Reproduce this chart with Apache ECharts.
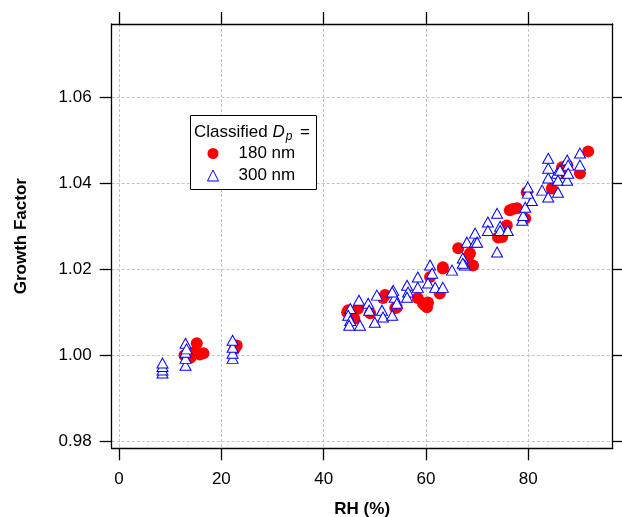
<!DOCTYPE html>
<html>
<head>
<meta charset="utf-8">
<script src="https://cdn.jsdelivr.net/npm/echarts@6/dist/echarts.min.js"></script>
<style>
  html, body { margin: 0; padding: 0; background: #ffffff; }
  #chart { width: 622px; height: 517px; }
</style>
</head>
<body>
<div id="chart"></div>
<script>
// tick positions
var xTicks = [0, 20, 40, 60, 80];
var yTicks = [0.98, 1.00, 1.02, 1.04, 1.06];

// 180 nm (red circles)
var rh180 = [12.8, 14.0, 14.8, 15.2, 15.8, 16.5, 22.6, 23.0,
  44.6, 44.8, 46.0, 46.7, 49.1, 51.6, 52.0, 54.0, 54.3, 58.4, 59.4, 59.8, 60.2, 60.4,
  60.8, 62.7, 63.3, 63.3, 66.3, 67.6, 68.2, 68.6, 69.2, 74.1, 74.9, 75.8, 76.4, 77.0,
  77.8, 79.4, 79.7, 84.6, 86.6, 86.8, 87.6, 90.1, 91.7];
var gf180 = [1.0000, 0.9995, 1.0008, 1.0028, 1.0002, 1.0005, 1.0015, 1.0023,
  1.0100, 1.0105, 1.0085, 1.0108, 1.0098, 1.0133, 1.0140, 1.0110, 1.0112, 1.0133, 1.0121, 1.0116, 1.0112, 1.0123,
  1.0182, 1.0144, 1.0202, 1.0205, 1.0249, 1.0214, 1.0228, 1.0237, 1.0209, 1.0274, 1.0275, 1.0302, 1.0337, 1.0340,
  1.0342, 1.0318, 1.0379, 1.0388, 1.0437, 1.0423, 1.0442, 1.0423, 1.0474];

// 300 nm (blue triangles)
var rh300 = [8.5, 8.5, 8.5, 8.5, 13.0, 13.0, 13.0, 13.0, 13.2, 22.2, 22.2, 22.2, 22.2,
  45.2, 44.8, 45.2, 45.0, 47.1, 46.9, 48.7, 48.9, 50.4, 50.0, 51.4, 51.6, 53.4, 53.6,
  53.9, 54.3, 53.4, 56.3, 56.5, 56.3, 58.4, 58.4,
  60.8, 61.2, 60.4, 61.8, 63.3, 65.1, 67.2, 67.6, 68.0, 69.6, 67.2, 69.6, 70.0,
  72.1, 72.1, 73.9, 74.5, 74.5, 76.0, 73.9,
  78.8, 79.0, 79.4, 80.7, 79.9, 79.9, 82.7, 83.9, 85.8, 83.9, 83.9, 83.9, 85.6, 86.2,
  85.8, 87.6, 87.8, 87.6, 87.8, 90.1, 90.1];
var gf300 = [0.9959, 0.9966, 0.9974, 0.9982, 0.9977, 0.9993, 1.0007, 1.0028, 1.0015, 0.9993, 1.0005, 1.0019, 1.0035,
  1.0109, 1.0093, 1.0081, 1.0070, 1.0070, 1.0128, 1.0121, 1.0105, 1.0140, 1.0077, 1.0105, 1.0089, 1.0093, 1.0151,
  1.0135, 1.0121, 1.0147, 1.0163, 1.0147, 1.0135, 1.0182, 1.0158,
  1.0210, 1.0191, 1.0168, 1.0158, 1.0158, 1.0198, 1.0226, 1.0210, 1.0263, 1.0263, 1.0214, 1.0284, 1.0263,
  1.0310, 1.0290, 1.0330, 1.0300, 1.0290, 1.0290, 1.0240,
  1.0314, 1.0325, 1.0344, 1.0360, 1.0377, 1.0391, 1.0384, 1.0368, 1.0379, 1.0412, 1.0435, 1.0458, 1.0423, 1.0430,
  1.0407, 1.0454, 1.0442, 1.0407, 1.0423, 1.0470, 1.0442];

var xMin = -1.43, xMax = 96.5;
var yMin = 0.9784, yMax = 1.077;

function pairs(xs, ys) {
  return xs.map(function (x, i) { return [x, ys[i]]; });
}

var font = "'Liberation Sans', Arial, sans-serif";
var gridLine = { show: true, lineStyle: { color: '#c4c4c4', type: [3, 2], width: 1 } };
var axLine = { show: true, onZero: false, lineStyle: { color: '#000', width: 1.3 } };
var tickStyle = { color: '#000', width: 1.3 };

var chart = echarts.init(document.getElementById('chart'));
chart.setOption({
  animation: false,
  backgroundColor: '#fff',
  grid: { left: 111.7, right: 9.3, top: 24, bottom: 68.7, containLabel: false, outerBoundsMode: 'none' },
  legend: {
    orient: 'vertical',
    left: 207, top: 145, z: 20, padding: 0,
    itemWidth: 11, itemHeight: 11, itemGap: 5,
    itemStyle: { borderWidth: 1 },
    textStyle: { fontSize: 17, color: '#000', fontFamily: font, padding: [0, 0, 0, 15] },
    data: ['180 nm', '300 nm']
  },
  xAxis: [{
    type: 'value', min: xMin, max: xMax, position: 'bottom',
    name: 'RH (%)', nameLocation: 'middle', nameGap: 53,
    nameTextStyle: { fontSize: 17, fontWeight: 'bold', color: '#000', fontFamily: font },
    axisLine: axLine,
    axisTick: { inside: false, length: 12, customValues: xTicks, lineStyle: tickStyle },
    axisLabel: { customValues: xTicks, fontSize: 17, color: '#000', margin: 23, fontFamily: font },
    splitLine: gridLine
  }, {
    type: 'value', min: xMin, max: xMax, position: 'top',
    axisLine: axLine,
    axisTick: { inside: false, length: 12, customValues: xTicks, lineStyle: tickStyle },
    axisLabel: { show: false },
    splitLine: { show: false }
  }],
  yAxis: [{
    type: 'value', min: yMin, max: yMax, position: 'left',
    name: 'Growth Factor', nameLocation: 'middle', nameGap: 82,
    nameTextStyle: { fontSize: 17, fontWeight: 'bold', color: '#000', fontFamily: font },
    axisLine: axLine,
    axisTick: { inside: false, length: 12, customValues: yTicks, lineStyle: tickStyle },
    axisLabel: {
      customValues: yTicks, fontSize: 17, color: '#000', margin: 20, fontFamily: font,
      formatter: function (v) { return v.toFixed(2); }
    },
    splitLine: gridLine
  }, {
    type: 'value', min: yMin, max: yMax, position: 'right',
    axisLine: axLine,
    axisTick: { inside: false, length: 12, customValues: yTicks, lineStyle: tickStyle },
    axisLabel: { show: false },
    splitLine: { show: false }
  }],
  graphic: [
    { type: 'rect', left: 190, top: 115, z: 10,
      shape: { width: 126, height: 74 },
      style: { fill: '#fff', stroke: '#000', lineWidth: 1 } },
    { type: 'text', x: 194, y: 121, z: 11,
      style: {
        text: 'Classified {d|D}{p|p} =',
        font: '17px ' + font, fill: '#000',
        rich: {
          d: { fontStyle: 'italic', fontSize: 17, fontFamily: font },
          p: { fontStyle: 'italic', fontSize: 12, fontFamily: font, padding: [10, 3, 0, 1] }
        }
      } }
  ],
  series: [{
    name: '180 nm', type: 'scatter', xAxisIndex: 0, yAxisIndex: 0,
    symbol: 'circle', symbolSize: 12,
    itemStyle: { color: '#ff0000', opacity: 1 },
    data: pairs(rh180, gf180), z: 2
  }, {
    name: '300 nm', type: 'scatter', xAxisIndex: 0, yAxisIndex: 0,
    symbol: 'triangle', symbolSize: [11, 10],
    itemStyle: { color: '#ffffff', borderColor: '#0000ff', borderWidth: 1, opacity: 1 },
    data: pairs(rh300, gf300), z: 3
  }]
});
</script>
</body>
</html>
